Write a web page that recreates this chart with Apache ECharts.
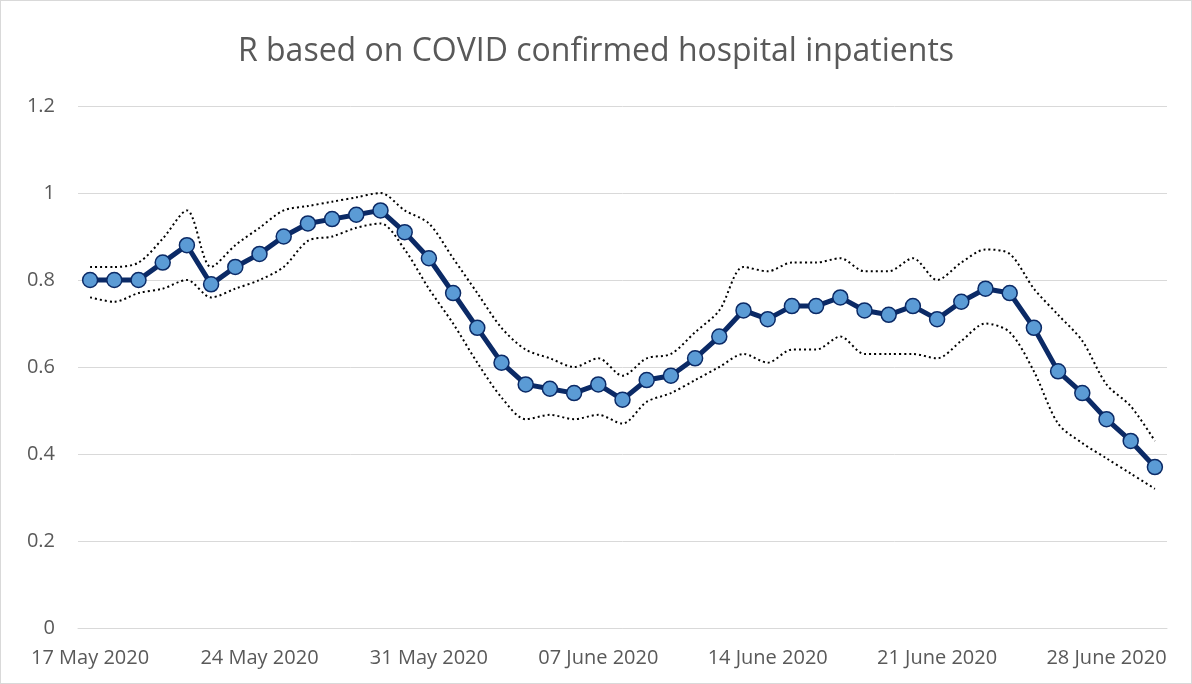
<!DOCTYPE html>
<html>
<head>
<meta charset="utf-8">
<script src="https://cdn.jsdelivr.net/npm/echarts@6/dist/echarts.min.js"></script>
<style>
html,body{margin:0;padding:0;background:#fff;}
#c{width:1192px;height:684px;box-sizing:border-box;border:1px solid #d9d9d9;}
</style>
</head>
<body>
<div id="c"></div>
<script>
const titleText = "R based on COVID confirmed hospital inpatients";
const categories = [
 "17 May 2020","18 May 2020","19 May 2020","20 May 2020","21 May 2020","22 May 2020","23 May 2020",
 "24 May 2020","25 May 2020","26 May 2020","27 May 2020","28 May 2020","29 May 2020","30 May 2020",
 "31 May 2020","01 June 2020","02 June 2020","03 June 2020","04 June 2020","05 June 2020","06 June 2020",
 "07 June 2020","08 June 2020","09 June 2020","10 June 2020","11 June 2020","12 June 2020","13 June 2020",
 "14 June 2020","15 June 2020","16 June 2020","17 June 2020","18 June 2020","19 June 2020","20 June 2020",
 "21 June 2020","22 June 2020","23 June 2020","24 June 2020","25 June 2020","26 June 2020","27 June 2020",
 "28 June 2020","29 June 2020","30 June 2020"
];
const rValues = [
 0.80,0.80,0.80,0.84,0.88,0.79,0.83,
 0.86,0.90,0.93,0.94,0.95,0.96,0.91,
 0.85,0.77,0.69,0.61,0.56,0.55,0.54,
 0.56,0.525,0.57,0.58,0.62,0.67,0.73,
 0.71,0.74,0.74,0.76,0.73,0.72,0.74,
 0.71,0.75,0.78,0.77,0.69,0.59,0.54,
 0.48,0.43,0.37
];
const upperValues = [
 0.83,0.83,0.84,0.895,0.96,0.83,0.88,
 0.92,0.96,0.97,0.98,0.99,1.00,0.96,
 0.93,0.85,0.77,0.69,0.64,0.62,0.60,
 0.62,0.58,0.62,0.63,0.68,0.73,0.83,
 0.82,0.84,0.84,0.85,0.82,0.82,0.85,
 0.80,0.84,0.87,0.86,0.78,0.72,0.66,
 0.56,0.51,0.43
];
const lowerValues = [
 0.76,0.75,0.77,0.78,0.80,0.76,0.78,
 0.80,0.83,0.89,0.90,0.92,0.93,0.87,
 0.78,0.70,0.61,0.53,0.48,0.49,0.48,
 0.49,0.47,0.52,0.54,0.57,0.60,0.63,
 0.61,0.64,0.64,0.67,0.63,0.63,0.63,
 0.62,0.66,0.70,0.68,0.59,0.47,0.425,
 0.39,0.355,0.32
];
const yTicks = {min:0, max:1.2, interval:0.2};

const chart = echarts.init(document.getElementById('c'));
const textColor = '#595959';
const dotted = {color:'#000', width:2, type:[2,3]};
chart.setOption({
  animation:false,
  title:{text:titleText,left:'center',top:30,
    textStyle:{fontFamily:'Open Sans',fontWeight:'normal',fontSize:32,color:textColor}},
  grid:{left:77,right:24,top:105,bottom:55},
  xAxis:{type:'category',data:categories,boundaryGap:true,
    axisTick:{show:false},
    axisLine:{lineStyle:{color:'#d9d9d9',width:1}},
    axisLabel:{interval:6,color:textColor,fontFamily:'Open Sans',fontSize:20,margin:20}},
  yAxis:{type:'value',min:yTicks.min,max:yTicks.max,interval:yTicks.interval,
    axisLine:{show:false},axisTick:{show:false},
    splitLine:{lineStyle:{color:'#d9d9d9',width:1}},
    axisLabel:{color:textColor,fontFamily:'Open Sans',fontSize:20,align:'right',margin:23}},
  series:[
    {name:'upper',type:'line',data:upperValues,showSymbol:false,symbol:'none',smooth:0.3,
      lineStyle:dotted,z:2},
    {name:'lower',type:'line',data:lowerValues,showSymbol:false,symbol:'none',smooth:0.3,
      lineStyle:dotted,z:2},
    {name:'R',type:'line',data:rValues,symbol:'circle',symbolSize:15,
      lineStyle:{color:'#0b2a66',width:5},
      itemStyle:{color:'#5b9bd5',borderColor:'#0b2a66',borderWidth:1.5},z:3}
  ]
});
</script>
</body>
</html>
